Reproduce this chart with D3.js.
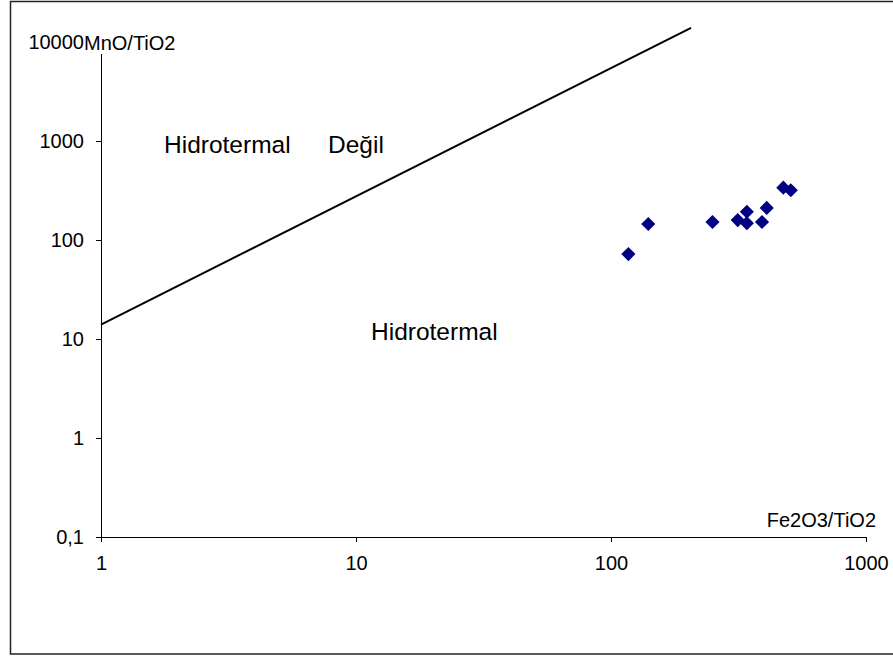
<!DOCTYPE html>
<html>
<head>
<meta charset="utf-8">
<script src="https://cdn.jsdelivr.net/npm/d3@7"></script>
<style>
  body { margin: 0; background: #fff; }
  svg { display: block; font-family: "Liberation Sans", Arial, sans-serif; }
</style>
</head>
<body>
<div id="chart"></div>
<script>
// data
let fe2o3TiO2 = [117, 140, 250, 314, 341, 341, 391, 408, 474, 507];
let mnoTiO2   = [72, 145, 152, 159, 193, 148, 152, 211, 338, 318];

// the boundary line between the two fields
let boundaryX = [1, 206];
let boundaryY = [14, 13900];

let xTicks = [1, 10, 100, 1000];
let yTicks = [0.1, 1, 10, 100, 1000, 10000];

let width = 893, height = 657;

let svg = d3.select("#chart")
    .append("svg")
    .attr("width", width)
    .attr("height", height);

// outer frame
svg.append("rect")
    .attr("x", 10.5).attr("y", 1.5)
    .attr("width", 890).attr("height", 652.5)
    .attr("fill", "none")
    .attr("stroke", "#222")
    .attr("stroke-width", 1.5);

let x = d3.scaleLog().domain([1, 1000]).range([101, 866]);
let y = d3.scaleLog().domain([0.1, 10000]).range([537, 42]);

let fmt = d => d < 1 ? String(d).replace(".", ",") : String(d);

// x axis
let xAxis = svg.append("g")
    .attr("transform", "translate(0,537)")
    .call(d3.axisBottom(x).tickValues(xTicks).tickFormat(fmt).tickSize(5).tickPadding(14).tickSizeOuter(0));

// y axis
let yAxis = svg.append("g")
    .attr("transform", "translate(101,0)")
    .call(d3.axisLeft(y).tickValues(yTicks).tickFormat(fmt).tickSize(5).tickPadding(12).tickSizeOuter(0));

[xAxis, yAxis].forEach(g => {
    g.selectAll("text").attr("font-size", 20).attr("fill", "#000").attr("font-family", "Liberation Sans, Arial, sans-serif");
    g.selectAll("line").attr("stroke", "#000");
    g.select(".domain").attr("stroke", "#000");
});

// axis titles
svg.append("rect")
    .attr("x", 84).attr("y", 30)
    .attr("width", 100).attr("height", 24)
    .attr("fill", "#fff");
svg.append("text")
    .attr("x", 84).attr("y", 50)
    .attr("font-size", 20)
    .text("MnO/TiO2");

svg.append("text")
    .attr("x", 876).attr("y", 527)
    .attr("text-anchor", "end")
    .attr("font-size", 20)
    .text("Fe2O3/TiO2");

// boundary line
let line = d3.line()
    .x(d => x(d[0]))
    .y(d => y(d[1]));

svg.append("path")
    .datum(d3.zip(boundaryX, boundaryY))
    .attr("d", line)
    .attr("fill", "none")
    .attr("stroke", "#000")
    .attr("stroke-width", 2);

// field labels
svg.append("text").attr("x", 164).attr("y", 153).attr("font-size", 24.5).text("Hidrotermal");
svg.append("text").attr("x", 328).attr("y", 153).attr("font-size", 24.5).text("Değil");
svg.append("text").attr("x", 371).attr("y", 340).attr("font-size", 24.5).text("Hidrotermal");

// samples
let samples = d3.zip(fe2o3TiO2, mnoTiO2);
svg.append("g")
    .selectAll("path")
    .data(samples)
    .enter()
    .append("path")
    .attr("d", d3.symbol().type(d3.symbolSquare).size(100))
    .attr("transform", d => "translate(" + x(d[0]) + "," + y(d[1]) + ") rotate(45)")
    .attr("fill", "#000080");
</script>
</body>
</html>
